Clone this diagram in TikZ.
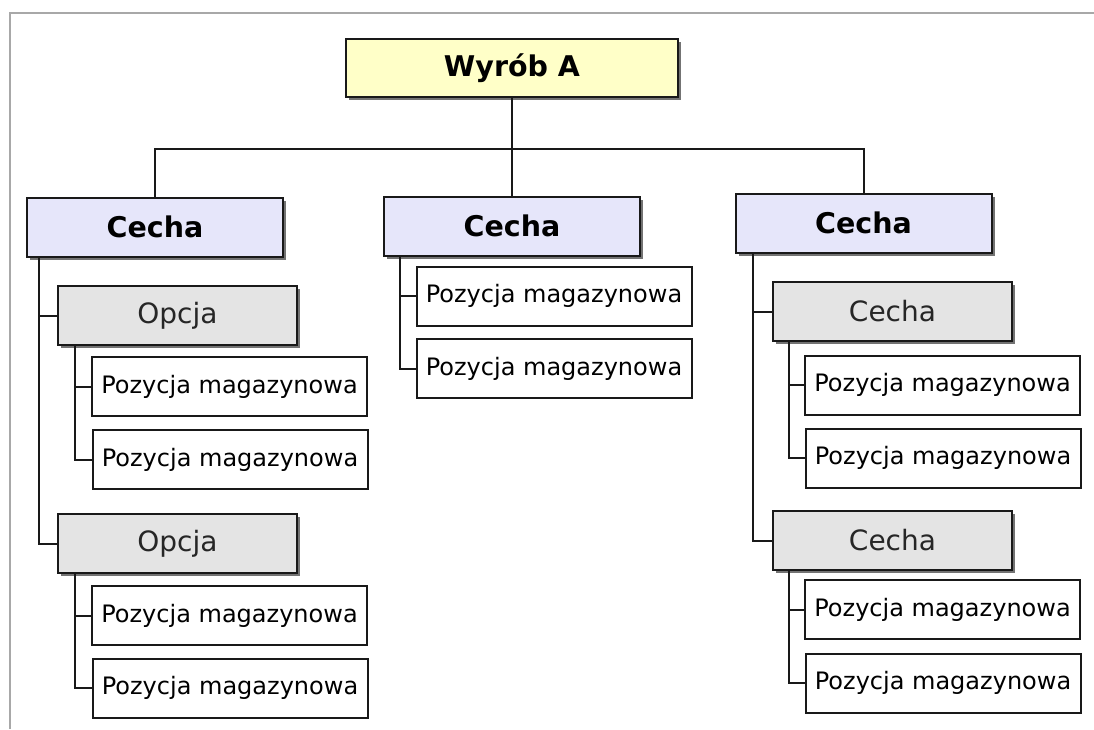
\documentclass[tikz,border=0pt]{standalone}
\usepackage{fontspec}
\setmainfont{DejaVu Sans}
\usetikzlibrary{shadows}
\definecolor{topfill}{HTML}{FFFFC8}
\definecolor{cechafill}{HTML}{E6E6FA}
\definecolor{subfill}{HTML}{E4E4E4}
\definecolor{framegray}{HTML}{A8A8A8}
\tikzset{
  boxbase/.style={draw=black!90, line width=2pt, rectangle, inner sep=0pt, align=center},
  shadowed/.style={drop shadow={shadow xshift=3pt, shadow yshift=-3pt, fill=black!55, opacity=1}},
  topbox/.style={boxbase, shadowed, fill=topfill, minimum width=332pt, minimum height=58pt, font=\fontsize{28.5}{31}\selectfont\bfseries},
  cechabox/.style={boxbase, shadowed, fill=cechafill, minimum width=256pt, minimum height=59pt, font=\fontsize{28.5}{31}\selectfont\bfseries},
  subbox/.style={boxbase, shadowed, fill=subfill, minimum width=239pt, minimum height=59pt, font=\fontsize{28}{31}\selectfont, text=black!85},
  posbox/.style={boxbase, fill=white, minimum width=275pt, minimum height=59pt, font=\fontsize{24}{27}\selectfont},
  conn/.style={draw=black!90, line width=2pt}
}
\begin{document}
\begin{tikzpicture}[x=1pt,y=-1pt]
\useasboundingbox (0,0) rectangle (1094,729);
\fill[white] (0,0) rectangle (1094,729);
\draw[framegray, line width=2pt] (9.5,729) -- (9.5,13) -- (1094,13);

% top
\node[topbox] (top) at (512,68) {Wyrób A};
% level 1
\node[cechabox] (cL) at (155,227) {Cecha};
\node[cechabox] (cM) at (512,226) {Cecha};
\node[cechabox] (cR) at (863.5,223) {Cecha};
\coordinate (bar) at (512,149);

% left column
\node[subbox] (oL1) at (177.5,315.5) {Opcja};
\node[posbox] (pL1) at (229.5,386.5) {Pozycja magazynowa};
\node[posbox] (pL2) at (230,459.5) {Pozycja magazynowa};
\node[subbox] (oL2) at (177.5,543.5) {Opcja};
\node[posbox] (pL3) at (229.5,615.5) {Pozycja magazynowa};
\node[posbox] (pL4) at (230,688) {Pozycja magazynowa};

% middle column
\node[posbox] (pM1) at (554,296) {Pozycja magazynowa};
\node[posbox] (pM2) at (554,368.5) {Pozycja magazynowa};

% right column
\node[subbox] (sR1) at (892.5,311.5) {Cecha};
\node[posbox] (pR1) at (942.5,385) {Pozycja magazynowa};
\node[posbox] (pR2) at (943,458) {Pozycja magazynowa};
\node[subbox] (sR2) at (892.5,540.5) {Cecha};
\node[posbox] (pR3) at (942.5,609.5) {Pozycja magazynowa};
\node[posbox] (pR4) at (943,683) {Pozycja magazynowa};

% connectors
\draw[conn] (top.south) -- (cM.north);
\draw[conn] (cL.north) |- (bar) -| (cR.north);

\draw[conn] ([xshift=13pt]cL.south west) |- (oL1.west);
\draw[conn] ([xshift=13pt]cL.south west) |- (oL2.west);
\draw[conn] ([xshift=18pt]oL1.south west) |- (pL1.west);
\draw[conn] ([xshift=18pt]oL1.south west) |- (pL2.west);
\draw[conn] ([xshift=18pt]oL2.south west) |- (pL3.west);
\draw[conn] ([xshift=18pt]oL2.south west) |- (pL4.west);

\draw[conn] ([xshift=17pt]cM.south west) |- (pM1.west);
\draw[conn] ([xshift=17pt]cM.south west) |- (pM2.west);

\draw[conn] ([xshift=18pt]cR.south west) |- (sR1.west);
\draw[conn] ([xshift=18pt]cR.south west) |- (sR2.west);
\draw[conn] ([xshift=17pt]sR1.south west) |- (pR1.west);
\draw[conn] ([xshift=17pt]sR1.south west) |- (pR2.west);
\draw[conn] ([xshift=17pt]sR2.south west) |- (pR3.west);
\draw[conn] ([xshift=17pt]sR2.south west) |- (pR4.west);
\end{tikzpicture}
\end{document}
